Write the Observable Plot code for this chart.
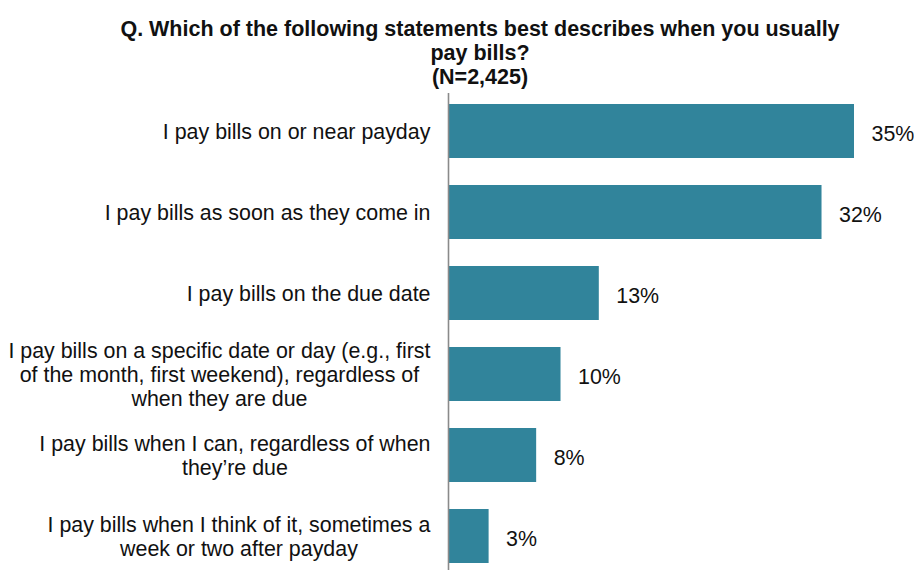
<!DOCTYPE html>
<html>
<head>
<meta charset="utf-8">
<script src="https://cdn.jsdelivr.net/npm/d3@7"></script>
<script src="https://cdn.jsdelivr.net/npm/@observablehq/plot@0.6"></script>
<style>
  html, body { margin: 0; padding: 0; background: #fff; }
  body { width: 914px; height: 570px; overflow: hidden; font-family: "Liberation Sans", Arial, sans-serif; }
  #title { box-sizing: border-box; width: 914px; height: 89px; padding: 17px 0 0 46px; margin: 0;
           text-align: center; font-weight: bold; font-size: 21.5px; line-height: 24px; color: #111; }
  #chart svg { display: block; }
</style>
</head>
<body>
<div id="title">Q. Which of the following statements best describes when you usually<br>pay bills?<br>(N=2,425)</div>
<div id="chart"></div>
<script>
const categories = [
  "I pay bills on or near payday",
  "I pay bills as soon as they come in",
  "I pay bills on the due date",
  "I pay bills on a specific date or day (e.g., first\nof the month, first weekend), regardless of\nwhen they are due",
  "I pay bills when I can, regardless of when\nthey’re due",
  "I pay bills when I think of it, sometimes a\nweek or two after payday"
];
const values = [35, 32.2, 13, 9.7, 7.6, 3.5];
const valueLabels = ["35%", "32%", "13%", "10%", "8%", "3%"];

const data = categories.map((c, i) => ({category: c, value: values[i], label: valueLabels[i]}));

const FONT = "21.4px";
const plot = Plot.plot({
  width: 914,
  height: 481,
  marginLeft: 448,
  marginRight: 2,
  marginTop: 9,
  marginBottom: 0,
  style: {fontFamily: "'Liberation Sans', Arial, sans-serif", fontSize: FONT, color: "#111", background: "#fff"},
  x: {domain: [0, 40], axis: null},
  y: {domain: categories, label: null, paddingInner: 0.33, paddingOuter: 0.0716},
  marks: [
    Plot.barX(data, {x: "value", y: "category", fill: "#31849B"}),
    Plot.ruleX([0], {stroke: "#8a8a8a", strokeWidth: 1.6, insetTop: -5}),
    Plot.axisY({tickSize: 0, tickPadding: 18, fontSize: FONT, lineHeight: 1.11, label: null}),
    Plot.text(data, {x: "value", y: "category", text: "label", textAnchor: "start", dx: 17, dy: 3, fontSize: FONT, fill: "#111"})
  ]
});
document.getElementById("chart").appendChild(plot);

// center the lines of each category label within its own block (right edge stays at the axis gap)
plot.querySelectorAll('g[aria-label="y-axis tick label"] text').forEach(t => {
  const w = t.getBBox().width;
  t.setAttribute("text-anchor", "middle");
  t.setAttribute("x", -w / 2);
  t.querySelectorAll("tspan").forEach(s => s.setAttribute("x", -w / 2));
});
</script>
</body>
</html>
